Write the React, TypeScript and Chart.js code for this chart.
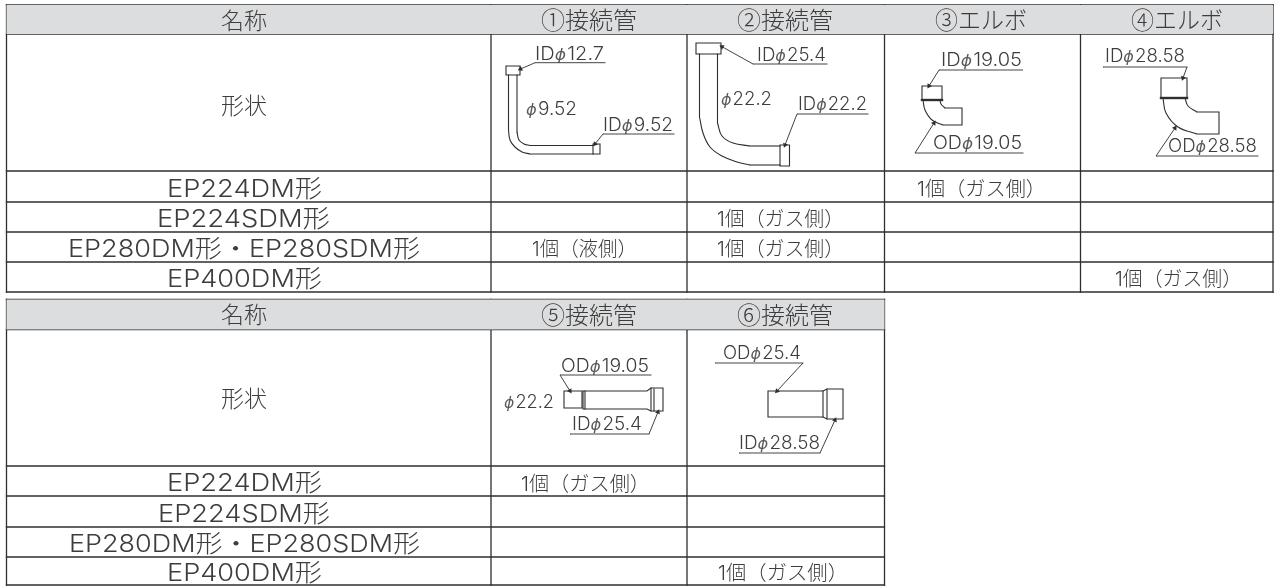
import React, { useEffect, useRef } from "react";
import { Chart, registerables } from "chart.js";

Chart.register(...registerables);

type P = [number, number];

// ---- table contents ----
const headerName = "名称";
const shapeLabel = "形状";
const upperHeaders = ["①接続管", "②接続管", "③エルボ", "④エルボ"];
const lowerHeaders = ["⑤接続管", "⑥接続管"];
const modelNames = ["EP224DM形", "EP224SDM形", "EP280DM形・EP280SDM形", "EP400DM形"];
const liquidOne = "1個（液側）";
const gasOne = "1個（ガス側）";
const dimensionLabels = {
  a: ["IDϕ12.7", "ϕ9.52", "IDϕ9.52"],
  b: ["IDϕ25.4", "ϕ22.2", "IDϕ22.2"],
  c: ["IDϕ19.05", "ODϕ19.05"],
  d: ["IDϕ28.58", "ODϕ28.58"],
  e: ["ODϕ19.05", "ϕ22.2", "IDϕ25.4"],
  f: ["ODϕ25.4", "IDϕ28.58"],
};

// ---- table grid ----
const upperColumns = [6.5, 491, 687, 884.5, 1080.5, 1273];
const lowerColumns = [6.5, 491, 687, 884.5];
const upperRows = [5, 34, 171, 202, 232, 262, 292];
const lowerRows = [299.5, 329.5, 466, 496, 527, 557, 585];

// ---- drawing outlines ----
const outlines: P[][] = [
  // 1
  [[506, 66], [520, 66], [520, 75], [506, 75], [506, 66]],
  [[508.5, 75], [508.5, 130]],
  [[517, 75], [517, 132]],
  [[530, 154], [593, 154]],
  [[530, 145.5], [593, 145.5]],
  [[593, 144], [600, 144], [600, 154], [593, 154], [593, 144]],
  // 2
  [[696, 43], [721, 43], [721, 54], [696, 54], [696, 43]],
  [[699.5, 54], [699.5, 117]],
  [[717.5, 54], [717.5, 123]],
  [[750, 146], [780, 146]],
  [[750, 165], [780, 165]],
  [[780, 145], [789.5, 145], [789.5, 166], [780, 166], [780, 145]],
  // 3
  [[922, 86], [942, 86], [942, 100], [922, 100], [922, 86]],
  [[943, 125], [962, 125], [962, 108], [945, 108]],
  // 4
  [[1161, 78], [1187, 78], [1187, 98], [1161, 98], [1161, 78]],
  [[1197, 134], [1219, 134], [1219, 112], [1197, 112]],
  // 5
  [[564, 391], [582, 391], [582, 408], [564, 408], [564, 391]],
  [[583, 391], [647, 391], [651, 388], [663, 388], [663, 411], [651, 411], [647, 409], [583, 409], [583, 391]],
  [[585, 391], [585, 409]],
  [[651, 388], [651, 411]],
  [[654, 389], [654, 411]],
  // 6
  [[768, 391], [823, 391], [827, 389], [843, 389], [843, 419], [827, 419], [823, 417], [768, 417], [768, 391]],
  [[823, 391], [823, 417]],
  [[827, 389], [827, 419]],
];
const thickBars: P[][] = [
  [[922, 100], [942, 100]],
  [[1161, 98], [1187, 98]],
];
const bends: P[][] = [
  [[508.5, 130], [510, 140], [515, 147], [522, 152], [530, 154]],
  [[517, 132], [519, 140], [524, 144], [530, 145.5]],
  [[699.5, 117], [703, 133], [710, 147], [722, 156], [737, 162], [750, 165]],
  [[717.5, 123], [722, 136], [733, 143], [750, 146]],
  [[923, 100], [925, 110], [932, 120], [943, 125]],
  [[940, 100], [941, 104], [945, 108]],
  [[1163, 98], [1166, 113], [1178, 127], [1197, 134]],
  [[1185, 98], [1188, 106], [1197, 112]],
];
const underlines: P[][] = [
  [[535, 62.7], [605, 62.7]],
  [[603, 134], [674, 134]],
  [[753, 64], [827, 64]],
  [[797, 114], [868, 114]],
  [[939, 70], [1022.5, 70]],
  [[915, 153], [1023, 153]],
  [[1103, 67], [1187, 67]],
  [[1156, 156], [1258, 156]],
  [[560, 375], [651, 375]],
  [[570, 434], [649, 434]],
  [[715, 363], [803, 363]],
  [[739, 453], [820, 453]],
];
const leaders: P[][] = [
  [[535, 62.7], [520.5, 69]],
  [[603, 134], [595, 144]],
  [[753, 64], [722, 46.7]],
  [[797, 114], [785, 145]],
  [[939, 70], [929, 86]],
  [[915, 153], [934, 123]],
  [[1187, 67], [1183, 78]],
  [[1156, 156], [1175, 128]],
  [[560, 375], [570, 391]],
  [[649, 434], [658, 412]],
  [[803, 363], [777, 391]],
  [[820, 453], [835, 420]],
];

const LINE = "#2e2e2e";
const TEXT = "#3d3d3d";
const FONT = '"Inter", "Noto Sans CJK JP", sans-serif';
const CJK_FONT = '"Noto Sans CJK JP", sans-serif';
const PHI_FONT = '"DejaVu Sans", sans-serif';

type Txt = { s: string; x0: number; x1: number; y: number; size: number };
const dl = dimensionLabels;
const texts: Txt[] = [
  { s: headerName, x0: 221, x1: 267, y: 28.5, size: 23 },
  { s: upperHeaders[0], x0: 541, x1: 637, y: 28.5, size: 24 },
  { s: upperHeaders[1], x0: 737, x1: 833, y: 28.5, size: 24 },
  { s: upperHeaders[2], x0: 935, x1: 1027, y: 28.5, size: 24 },
  { s: upperHeaders[3], x0: 1131, x1: 1223, y: 28.5, size: 24 },
  { s: shapeLabel, x0: 221, x1: 267, y: 114, size: 23 },
  { s: modelNames[0], x0: 167, x1: 322, y: 196.5, size: 24 },
  { s: modelNames[1], x0: 157, x1: 330, y: 226.5, size: 24 },
  { s: modelNames[2], x0: 68, x1: 420, y: 257, size: 24 },
  { s: modelNames[3], x0: 167, x1: 322, y: 287, size: 24 },
  { s: gasOne, x0: 917, x1: 1046, y: 195.5, size: 20 },
  { s: gasOne, x0: 717, x1: 844, y: 226, size: 20 },
  { s: liquidOne, x0: 532, x1: 637, y: 256, size: 20 },
  { s: gasOne, x0: 717, x1: 844, y: 256, size: 20 },
  { s: gasOne, x0: 1115, x1: 1242, y: 286, size: 20 },
  { s: headerName, x0: 221, x1: 267, y: 323, size: 23 },
  { s: lowerHeaders[0], x0: 541, x1: 637, y: 323.5, size: 24 },
  { s: lowerHeaders[1], x0: 737, x1: 833, y: 323.5, size: 24 },
  { s: shapeLabel, x0: 221, x1: 267, y: 407, size: 23 },
  { s: modelNames[0], x0: 167, x1: 322, y: 491, size: 24 },
  { s: modelNames[1], x0: 158, x1: 330, y: 522, size: 24 },
  { s: modelNames[2], x0: 69, x1: 420, y: 552, size: 24 },
  { s: modelNames[3], x0: 167, x1: 322, y: 580.5, size: 24 },
  { s: gasOne, x0: 521, x1: 650, y: 490.5, size: 20 },
  { s: gasOne, x0: 718, x1: 848, y: 579.5, size: 20 },
  // dimensions
  { s: dl.a[0], x0: 535, x1: 604, y: 60, size: 18 },
  { s: dl.a[1], x0: 526, x1: 577, y: 115, size: 18 },
  { s: dl.a[2], x0: 603, x1: 673, y: 131, size: 18 },
  { s: dl.b[0], x0: 757, x1: 826, y: 61, size: 18 },
  { s: dl.b[1], x0: 721, x1: 772, y: 105, size: 18 },
  { s: dl.b[2], x0: 798, x1: 867, y: 110, size: 18 },
  { s: dl.c[0], x0: 941, x1: 1022, y: 66, size: 18 },
  { s: dl.c[1], x0: 933, x1: 1022, y: 149, size: 18 },
  { s: dl.d[0], x0: 1105, x1: 1185, y: 62, size: 18 },
  { s: dl.d[1], x0: 1168, x1: 1257, y: 152, size: 18 },
  { s: dl.e[0], x0: 561, x1: 649, y: 372, size: 18 },
  { s: dl.e[1], x0: 504, x1: 554, y: 408, size: 18 },
  { s: dl.e[2], x0: 572, x1: 642, y: 430, size: 18 },
  { s: dl.f[0], x0: 723, x1: 801, y: 359, size: 18 },
  { s: dl.f[1], x0: 739, x1: 820, y: 449, size: 18 },
];

const toXY = (pts: P[]) => pts.map(([x, y]) => ({ x, y }));

function lineSet(pts: P[], width: number, extra: object = {}) {
  return {
    type: "line" as const,
    data: toXY(pts),
    borderColor: LINE,
    borderWidth: width,
    pointRadius: 0,
    fill: false,
    tension: 0,
    borderCapStyle: "square" as const,
    ...extra,
  };
}

function gridDatasets(cols: number[], rows: number[]) {
  const out: any[] = [];
  const top = rows[0];
  const bottom = rows[rows.length - 1];
  const left = cols[0];
  const right = cols[cols.length - 1];
  // header band
  out.push({
    type: "line",
    data: toXY([[left, top], [right, top], [right, rows[1]], [left, rows[1]], [left, top]]),
    borderWidth: 0,
    borderColor: "rgba(0,0,0,0)",
    backgroundColor: "#dcddde",
    pointRadius: 0,
    fill: "shape",
    tension: 0,
  });
  cols.forEach((c) => out.push(lineSet([[c, top], [c, bottom]], 1.3)));
  rows.forEach((r) => out.push(lineSet([[left, r], [right, r]], 1.3)));
  return out;
}

const textPlugin = {
  id: "cellText",
  afterDatasetsDraw(chart: any) {
    const { ctx, scales } = chart;
    ctx.save();
    ctx.fillStyle = TEXT;
    ctx.textBaseline = "alphabetic";
    ctx.textAlign = "left";
    for (const t of texts) {
      const x0 = scales.x.getPixelForValue(t.x0);
      const x1 = scales.x.getPixelForValue(t.x1);
      const y = scales.y.getPixelForValue(t.y);
      const family = /[①-⑥]/.test(t.s) ? CJK_FONT : FONT;
      const regular = `300 ${t.size}px ${family}`;
      const italic = `italic ${t.size * 0.86}px ${PHI_FONT}`;
      const gap = t.size * 0.06;
      const parts = t.s.split(/(ϕ)/).filter(Boolean);
      let total = 0;
      const widths = parts.map((p) => {
        ctx.font = p === "ϕ" ? italic : regular;
        const w = ctx.measureText(p).width + (p === "ϕ" ? gap : 0);
        total += w;
        return w;
      });
      ctx.save();
      ctx.translate(x0, y);
      ctx.scale((x1 - x0) / total, 1);
      let cx = 0;
      parts.forEach((p, i) => {
        ctx.font = p === "ϕ" ? italic : regular;
        if (p === "ϕ") {
          ctx.save();
          ctx.globalAlpha = 0.85;
          ctx.fillText(p, cx, 0);
          ctx.restore();
        } else {
          ctx.fillText(p, cx, 0);
        }
        cx += widths[i];
      });
      ctx.restore();
    }
    ctx.restore();
  },
};

export default function App() {
  const ref = useRef<HTMLCanvasElement>(null);
  useEffect(() => {
    if (!ref.current) return;
    const datasets: any[] = [
      ...gridDatasets(upperColumns, upperRows),
      ...gridDatasets(lowerColumns, lowerRows),
      ...outlines.map((o) => lineSet(o, 1.1)),
      ...thickBars.map((o) => lineSet(o, 2.4)),
      ...bends.map((o) => lineSet(o, 1.1, { tension: 0.4, borderCapStyle: "butt" })),
      ...underlines.map((o) => lineSet(o, 1, { borderColor: "#444" })),
      ...leaders.map((o) => {
        const [a, b] = o;
        const rot = (Math.atan2(b[0] - a[0], -(b[1] - a[1])) * 180) / Math.PI;
        return lineSet(o, 0.9, {
          pointStyle: "triangle",
          pointRadius: [0, 3],
          pointRotation: [0, rot],
          pointBackgroundColor: LINE,
          pointBorderWidth: 0,
          borderCapStyle: "butt",
        });
      }),
    ];
    const chart = new Chart(ref.current, {
      type: "line",
      data: { datasets },
      plugins: [textPlugin],
      options: {
        animation: false,
        responsive: false,
        layout: { padding: 0, autoPadding: false },
        plugins: { legend: { display: false }, tooltip: { enabled: false }, title: { display: false } },
        scales: {
          x: { type: "linear", min: 0, max: 1274, display: false },
          y: { type: "linear", min: 0, max: 586, reverse: true, display: false },
        },
      },
    } as any);
    return () => chart.destroy();
  }, []);
  return (
    <canvas
      ref={ref}
      width={1274}
      height={586}
      style={{ position: "fixed", left: 0, top: 0, width: 1274, height: 586, display: "block", background: "#fff" }}
    />
  );
}
